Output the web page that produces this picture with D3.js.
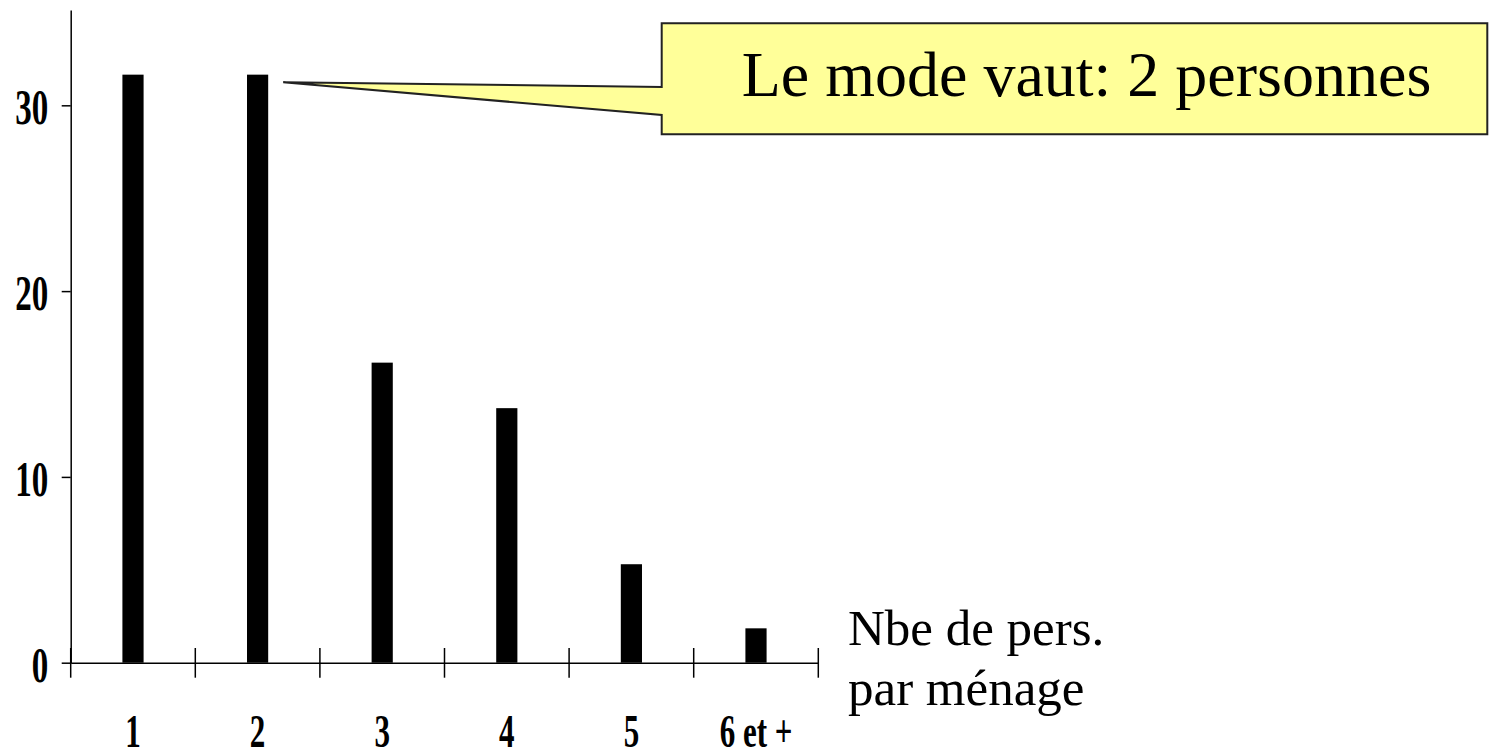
<!DOCTYPE html>
<html>
<head>
<meta charset="utf-8">
<script src="https://cdn.jsdelivr.net/npm/d3@7"></script>
<style>
  body { margin: 0; background: #fff; }
  text { font-family: "Liberation Serif", "Times New Roman", serif; }
</style>
</head>
<body>
<svg id="chart"></svg>
<script>
// data
var categories = ["1", "2", "3", "4", "5", "6 et +"];
var values = [31.65, 31.65, 16.15, 13.7, 5.3, 1.85];
var yTicks = [0, 10, 20, 30];
var modeIndex = 1;
var calloutText = "Le mode vaut: 2 personnes";
var xTitle = ["Nbe de pers.", "par ménage"];

// set the dimensions and margins of the graph
var margin = {top: 10, right: 671.7, bottom: 87.3, left: 70.7},
    width = 1490 - margin.left - margin.right,
    height = 750 - margin.top - margin.bottom;

const svg = d3.select("#chart")
    .attr("width", 1490)
    .attr("height", 750)
  .append("g")
    .attr("transform", `translate(${margin.left}, ${margin.top})`);

const x = d3.scaleBand()
    .domain(categories)
    .range([0, width])
    .paddingInner(0.83)
    .paddingOuter(0.415);

const y = d3.scaleLinear()
    .domain([0, 35.13])
    .range([height, 0]);

var squeeze = 0.66;

// Y axis
const yAxis = svg.append("g")
    .call(d3.axisLeft(y).tickValues(yTicks).tickSize(9).tickSizeOuter(0).tickPadding(0));
yAxis.select(".domain").attr("stroke", "#000").attr("stroke-width", 1.5);
yAxis.selectAll(".tick line").attr("stroke", "#000").attr("stroke-width", 1.5);
yAxis.selectAll(".tick text")
    .attr("x", -22.4 / squeeze)
    .attr("y", 18.5)
    .attr("dy", 0)
    .attr("transform", `scale(${squeeze},1)`)
    .style("font-size", "50px")
    .style("font-weight", "bold")
    .style("font-family", "'Liberation Serif', 'Times New Roman', serif")
    .attr("fill", "#000");

// bars
svg.append("g")
  .selectAll("rect")
  .data(values)
  .enter()
  .append("rect")
    .attr("x", (d, i) => x(categories[i]))
    .attr("y", d => y(d))
    .attr("width", x.bandwidth())
    .attr("height", d => height - y(d))
    .attr("fill", "#000");

// X axis line + labels
const xAxis = svg.append("g")
    .attr("transform", `translate(0, ${height})`)
    .call(d3.axisBottom(x).tickSize(0).tickSizeOuter(0));
xAxis.select(".domain").attr("stroke", "#000").attr("stroke-width", 1.5);
xAxis.selectAll(".tick text")
    .attr("y", 84)
    .attr("dy", 0)
    .attr("transform", `scale(${squeeze},1)`)
    .style("font-size", "47px")
    .style("font-weight", "bold")
    .style("font-family", "'Liberation Serif', 'Times New Roman', serif")
    .attr("fill", "#000");

// boundary ticks crossing the x axis
var gap = x.step() - x.bandwidth();
var bounds = categories.map(c => x(c) - gap / 2).concat([x.range()[1]]);
svg.append("g")
  .selectAll("line")
  .data(bounds)
  .enter()
  .append("line")
    .attr("x1", d => d)
    .attr("x2", d => d)
    .attr("y1", height - 14.7)
    .attr("y2", height + 15)
    .attr("stroke", "#000")
    .attr("stroke-width", 1.5);

// x title
svg.append("text")
    .attr("x", 848 - margin.left)
    .attr("y", 645 - margin.top)
    .style("font-size", "51px")
    .attr("fill", "#000")
  .selectAll("tspan")
  .data(xTitle)
  .enter()
  .append("tspan")
    .attr("x", 848 - margin.left)
    .attr("dy", (d, i) => i === 0 ? 0 : 60)
    .text(d => d);

// callout pointing at the mode
var box = {x0: 661.7 - margin.left, x1: 1487.3 - margin.left, y0: 23.3 - margin.top, y1: 134.3 - margin.top};
var tipX = x(categories[modeIndex]) + x.bandwidth() + 15,
    tipY = y(values[modeIndex]) + 7.6;
var pts = [
  [box.x0, box.y0], [box.x1, box.y0], [box.x1, box.y1], [box.x0, box.y1],
  [box.x0, 115 - margin.top], [tipX, tipY], [box.x0, 87 - margin.top]
];
svg.append("path")
    .attr("d", d3.line()(pts) + "Z")
    .attr("fill", "#ffff99")
    .attr("stroke", "#222")
    .attr("stroke-width", 2)
    .attr("stroke-linejoin", "miter");

svg.append("text")
    .attr("x", 741.7 - margin.left)
    .attr("y", 95.7 - margin.top)
    .style("font-size", "64px")
    .attr("fill", "#000")
    .text(calloutText);
</script>
</body>
</html>
